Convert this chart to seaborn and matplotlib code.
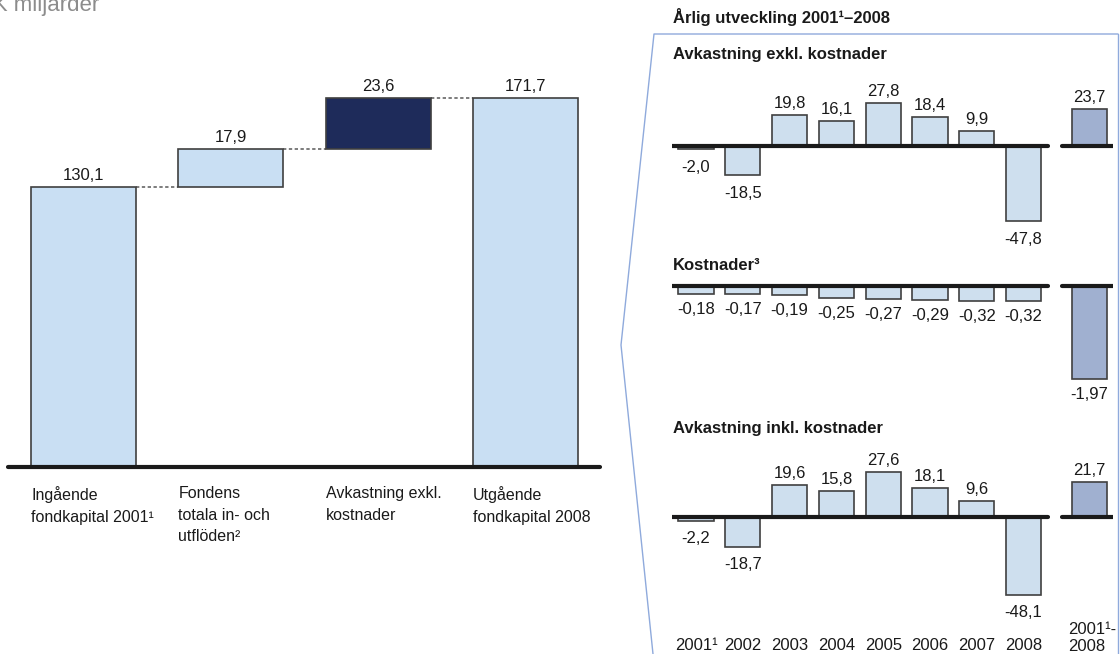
import matplotlib
matplotlib.use("Agg")
import matplotlib.pyplot as plt
from matplotlib.lines import Line2D
import numpy as np
import pandas as pd
import seaborn as sns

# ---- data -------------------------------------------------------------
bridge_labels = ["Ingående\nfondkapital 2001¹",
                 "Fondens\ntotala in- och\nutflöden²",
                 "Avkastning exkl.\nkostnader",
                 "Utgående\nfondkapital 2008"]
bridge_values = [130.1, 17.9, 23.6, 171.7]

years = ["2001¹", "2002", "2003", "2004", "2005", "2006", "2007", "2008"]
total_label = "2001¹-\n2008"

ret_excl = [-2.0, -18.5, 19.8, 16.1, 27.8, 18.4, 9.9, -47.8]
ret_excl_total = 23.7
costs = [-0.18, -0.17, -0.19, -0.25, -0.27, -0.29, -0.32, -0.32]
costs_total = -1.97
ret_incl = [-2.2, -18.7, 19.6, 15.8, 27.6, 18.1, 9.6, -48.1]
ret_incl_total = 21.7

# ---- style ------------------------------------------------------------
sns.set_theme(style="white")
plt.rcParams["font.family"] = ["Liberation Sans", "DejaVu Sans"]

LIGHT = "#C9DFF3"
NAVY = "#1E2B5A"
TOTAL = "#98AED8"
EDGE = "#404040"
FRAME = "#8FAADC"
TXT = "#1A1A1A"
VAL_FS = 12
TITLE_FS = 12

W, H = 1120, 654
fig = plt.figure(figsize=(W / 100, H / 100), dpi=100)


def px_axes(x0, y0, x1, y1):
    """Axes placed by pixel box (top-left origin)."""
    ax = fig.add_axes([x0 / W, 1 - y1 / H, (x1 - x0) / W, (y1 - y0) / H])
    ax.set_axis_off()
    return ax


def fmt(v, dec=1):
    return f"{v:.{dec}f}".replace(".", ",")


# ---- left: bridge from opening to closing capital ---------------------
axL = px_axes(8, 60, 600, 467)
xpos = np.arange(4)
opening, flows, ret, closing = bridge_values
bottoms = [0, opening, opening + flows, 0]
colors = [LIGHT, LIGHT, NAVY, LIGHT]
axL.bar(xpos, bridge_values, bottom=bottoms, width=0.713, color=colors,
        edgecolor=EDGE, linewidth=1.2, zorder=3)
axL.set_xlim(-0.513, 3.507)
axL.set_ylim(0, (467 - 60) / 2.149)
axL.axhline(0, color="#1a1a1a", lw=3.0, zorder=4, clip_on=False)

tops = [b + v for b, v in zip(bottoms, bridge_values)]
for i in range(3):
    axL.plot([xpos[i] + 0.3565, xpos[i + 1] - 0.3565], [tops[i], tops[i]],
             ls=(0, (2, 1.5)), color="#666666", lw=1.2, zorder=2)
for i, v in enumerate(bridge_values):
    axL.annotate(fmt(v), (xpos[i], tops[i]), xytext=(0, 4),
                 textcoords="offset pixels", ha="center", va="bottom",
                 fontsize=VAL_FS, color=TXT)
for i, lab in enumerate(bridge_labels):
    axL.annotate(lab, (xpos[i] - 0.3565, 0), xytext=(0, -19),
                 textcoords="offset pixels", ha="left", va="top",
                 fontsize=11.5, color=TXT, linespacing=1.55)

fig.text(-37 / W, 1 - 11 / H, "SEK miljarder", fontsize=16, color="#8C8C8C",
         ha="left", va="baseline")

# ---- right: yearly development ---------------------------------------
# frame around the yearly panel
fx = [1118, 654, 621, 653]
fy = [34, 34, 345, 654]
fig.add_artist(Line2D([x / W for x in fx], [1 - y / H for y in fy],
                      transform=fig.transFigure, color=FRAME, lw=1.0))
fig.add_artist(Line2D([1118 / W, 1118 / W], [1 - 34 / H, 0],
                      transform=fig.transFigure, color=FRAME, lw=1.0))

fig.text(673 / W, 1 - 17 / H, "Årlig utveckling 2001¹–2008", fontsize=TITLE_FS,
         fontweight="bold", color=TXT, ha="left", va="center")

XSP = 46.8          # pixels between year bars
X0 = 696            # centre of the first year bar
TOT_POS = 8.4       # position of the total bar
xl = ((672 - X0) / XSP, (1113 - X0) / XSP)


def panel(top, bottom, base_px, scale, vals, total, title, title_y, dec,
          lab_off_pos, lab_off_neg):
    ax = px_axes(672, top, 1113, bottom)
    df = pd.DataFrame({
        "pos": list(range(len(vals))) + [TOT_POS],
        "value": list(vals) + [total],
        "kind": ["year"] * len(vals) + ["total"],
    })
    sns.barplot(data=df, x="pos", y="value", hue="kind",
                palette={"year": LIGHT, "total": TOTAL}, native_scale=True,
                dodge=False, legend=False, width=0.75, edgecolor=EDGE,
                linewidth=1.2, ax=ax, zorder=3)
    ax.set_axis_off()
    ax.set_xlim(*xl)
    ax.set_ylim(-(bottom - base_px) / scale, (base_px - top) / scale)
    # split baseline: years and total
    ax.plot([xl[0], (1048 - X0) / XSP], [0, 0], color="#1a1a1a", lw=3.0,
            zorder=4, solid_capstyle="round")
    ax.plot([(1062 - X0) / XSP, xl[1]], [0, 0], color="#1a1a1a", lw=3.0,
            zorder=4, solid_capstyle="round")
    for p, v in zip(df["pos"], df["value"]):
        if v >= 0:
            ax.annotate(fmt(v, dec), (p, v), xytext=(0, lab_off_pos),
                        textcoords="offset pixels", ha="center",
                        va="bottom", fontsize=VAL_FS, color=TXT)
        else:
            ax.annotate(fmt(v, dec), (p, v), xytext=(0, -lab_off_neg),
                        textcoords="offset pixels", ha="center", va="top",
                        fontsize=VAL_FS, color=TXT)
    fig.text(673 / W, 1 - title_y / H, title, fontsize=TITLE_FS,
             fontweight="bold", color=TXT, ha="left", va="center")
    return ax


panel(70, 262, 146, 1.56, ret_excl, ret_excl_total,
      "Avkastning exkl. kostnader", 55, 1, 4, 11)
panel(272, 400, 286, 47.0, costs, costs_total, "Kostnader³", 265, 2, 4, 8)
ax3 = panel(440, 622, 517, 1.62, ret_incl, ret_incl_total,
            "Avkastning inkl. kostnader", 428, 1, 4, 10)

# year labels under the last panel
for i, y in enumerate(years):
    fig.text((X0 + i * XSP) / W, 1 - 646 / H, y, fontsize=VAL_FS, color=TXT,
             ha="center", va="center")
fig.text(1068 / W, 1 - 638 / H, total_label,
         fontsize=VAL_FS, color=TXT, ha="left", va="center", linespacing=1.1)

fig.savefig("out.png", dpi=100)
